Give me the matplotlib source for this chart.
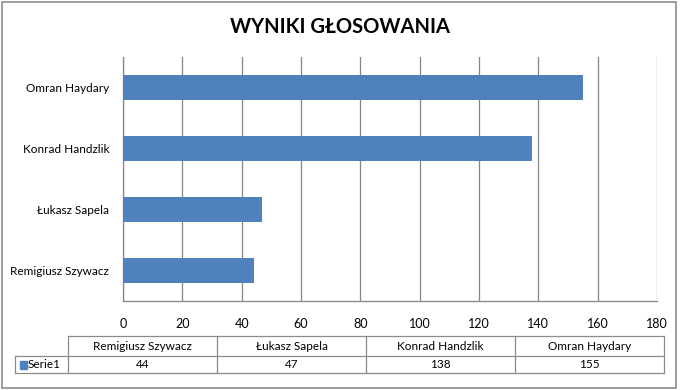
import matplotlib
matplotlib.use("Agg")
import matplotlib.pyplot as plt
from matplotlib.patches import Rectangle
from matplotlib.lines import Line2D

# dane
kandydaci = ["Remigiusz Szywacz", "Łukasz Sapela", "Konrad Handzlik", "Omran Haydary"]
glosy = [44, 47, 138, 155]
seria = "Serie1"
ticks_x = [0, 20, 40, 60, 80, 100, 120, 140, 160, 180]

plt.rcParams['font.family'] = ['Lato', 'DejaVu Sans']
niebieski = "#4F81BD"
szary = "#868686"

W, H = 681, 390
fig = plt.figure(figsize=(W / 100, H / 100), dpi=100)

def fx(x):
    return x / W

def fy(y):
    return 1 - y / H

# ramka wykresu
fig.add_artist(Rectangle((fx(2), fy(388)), fx(676) - fx(2), fy(2) - fy(388),
                         transform=fig.transFigure, fill=False, ec="#8c8c8c", lw=1.2))

fig.text(fx(340), fy(27), "WYNIKI GŁOSOWANIA", ha="center", va="center",
         fontsize=14.5, fontweight="bold")

ax = fig.add_axes([fx(123), fy(301), fx(657) - fx(123), fy(57) - fy(301)])
ax.barh(range(len(kandydaci)), glosy, height=0.4, color=niebieski, zorder=3)
ax.set_xlim(0, 180)
ax.set_ylim(-0.5, len(kandydaci) - 0.5)
ax.set_xticks(ticks_x)
ax.set_xticklabels([str(t) for t in ticks_x], fontsize=9)
ax.set_yticks(range(len(kandydaci)))
ax.set_yticklabels(kandydaci, fontsize=8.5)
ax.grid(axis="x", color=szary, lw=0.9, zorder=0)
ax.tick_params(axis="x", length=0, pad=12)
ax.tick_params(axis="y", length=0, pad=10)
for s in ["top", "right"]:
    ax.spines[s].set_visible(False)
for s in ["left", "bottom"]:
    ax.spines[s].set_color(szary)
    ax.spines[s].set_linewidth(0.9)

# tabela danych
x_lab = 15
x0 = 68
x1 = 664
y_top, y_mid, y_bot = 336, 356, 373
cw = (x1 - x0) / len(kandydaci)
lc = "#8c8c8c"

def hline(xa, xb, y):
    fig.add_artist(Line2D([fx(xa), fx(xb)], [fy(y), fy(y)], transform=fig.transFigure, color=lc, lw=0.9))

def vline(x, ya, yb):
    fig.add_artist(Line2D([fx(x), fx(x)], [fy(ya), fy(yb)], transform=fig.transFigure, color=lc, lw=0.9))

hline(x0, x1, y_top)
hline(x_lab, x1, y_mid)
hline(x_lab, x1, y_bot)
vline(x_lab, y_mid, y_bot)
for i in range(len(kandydaci) + 1):
    vline(x0 + i * cw, y_top, y_bot)

for i, (k, g) in enumerate(zip(kandydaci, glosy)):
    cx = x0 + (i + 0.5) * cw
    fig.text(fx(cx), fy((y_top + y_mid) / 2), k, ha="center", va="center", fontsize=8.5)
    fig.text(fx(cx), fy((y_mid + y_bot) / 2), str(g), ha="center", va="center", fontsize=8.5)

fig.add_artist(Rectangle((fx(20), fy(369)), fx(27) - fx(20), fy(361) - fy(369),
                         transform=fig.transFigure, color=niebieski))
fig.text(fx(28), fy((y_mid + y_bot) / 2), seria, ha="left", va="center", fontsize=8.5)

fig.savefig("out.png", dpi=100)
